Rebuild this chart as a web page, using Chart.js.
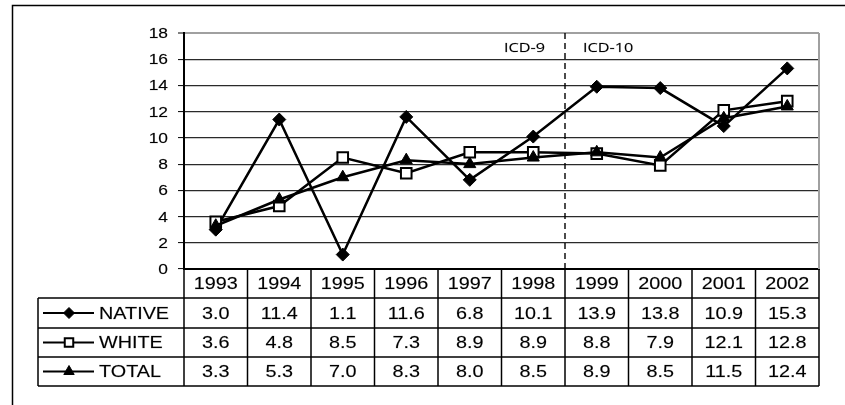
<!DOCTYPE html>
<html>
<head>
<meta charset="utf-8">
<script src="https://cdn.jsdelivr.net/npm/chart.js@4"></script>
<style>
  body { margin: 0; background: #fff; }
  #wrap { width: 845px; height: 405px; }
</style>
</head>
<body>
<div id="wrap"><canvas id="chart" width="845" height="405"></canvas></div>
<script>
const years  = ['1993', '1994', '1995', '1996', '1997', '1998', '1999', '2000', '2001', '2002'];
const native = [3.0, 11.4, 1.1, 11.6, 6.8, 10.1, 13.9, 13.8, 10.9, 15.3];
const white  = [3.6, 4.8, 8.5, 7.3, 8.9, 8.9, 8.8, 7.9, 12.1, 12.8];
const total  = [3.3, 5.3, 7.0, 8.3, 8.0, 8.5, 8.9, 8.5, 11.5, 12.4];
const seriesNames = ['NATIVE', 'WHITE', 'TOTAL'];
const icdLabels = ['ICD-9', 'ICD-10'];   // split between 1998 and 1999
const yMin = 0, yMax = 18, yStep = 2;

const FONT = '"Liberation Sans", Arial, sans-serif';
const STRETCH = 1.2;   // the original text is drawn wide

function wideText(ctx, text, x, y, align, font) {
    ctx.save();
    ctx.translate(x, y);
    ctx.scale(STRETCH, 1);
    ctx.font = font;
    ctx.textAlign = align;
    ctx.textBaseline = 'middle';
    ctx.fillStyle = '#000';
    ctx.strokeStyle = 'rgba(0,0,0,0.35)';
    ctx.lineWidth = 0.4;
    ctx.fillText(text, 0, 0);
    ctx.strokeText(text, 0, 0);
    ctx.restore();
}

function line(ctx, x1, y1, x2, y2) {
    ctx.beginPath();
    ctx.moveTo(x1, y1);
    ctx.lineTo(x2, y2);
    ctx.stroke();
}

// outer frame, plot border, ICD divider, y labels and the data table
const extras = {
    id: 'extras',
    beforeDraw(chart) {
        const ctx = chart.ctx;
        ctx.save();
        ctx.strokeStyle = '#000';
        ctx.lineWidth = 1.5;
        ctx.strokeRect(12.5, 5.5, 900, 500);
        ctx.restore();
    },
    afterDatasetsDraw(chart) {
        const ctx = chart.ctx;
        const area = chart.chartArea;
        const xs = chart.scales.x, ys = chart.scales.y;
        const half = (xs.getPixelForValue(1) - xs.getPixelForValue(0)) / 2;

        ctx.save();
        // gray right border of the plot
        ctx.strokeStyle = '#a0a0a0';
        ctx.lineWidth = 2;
        line(ctx, area.right, area.top, area.right, area.bottom);

        // ICD-9 / ICD-10 divider
        const splitX = Math.round(xs.getPixelForValue(5) + half);
        ctx.strokeStyle = '#000';
        ctx.lineWidth = 1.4;
        ctx.setLineDash([6, 4]);
        line(ctx, splitX, area.top, splitX, area.bottom);
        ctx.setLineDash([]);
        wideText(ctx, icdLabels[0], splitX - 20, area.top + 15, 'right', '13.5px "Open Sans", sans-serif');
        wideText(ctx, icdLabels[1], splitX + 18, area.top + 15, 'left', '13.5px "Open Sans", sans-serif');

        // y tick labels
        ys.ticks.forEach(t => {
            wideText(ctx, String(t.value), area.left - 16, ys.getPixelForValue(t.value) + 1, 'right', '14.5px ' + FONT);
        });

        // table
        const rowTop = [area.bottom, 298, 328, 357, 386];
        const legLeft = 38;
        ctx.strokeStyle = '#000';
        ctx.lineWidth = 1.5;
        for (let r = 1; r < rowTop.length; r++) line(ctx, legLeft, rowTop[r], area.right, rowTop[r]);
        line(ctx, legLeft, rowTop[1], legLeft, rowTop[4]);
        for (let i = 0; i <= years.length; i++) {
            const x = xs.getPixelForValue(0) - half + i * 2 * half;
            line(ctx, x, rowTop[0], x, rowTop[4]);
        }
        const rows = [native, white, total];
        years.forEach((yr, i) => {
            const cx = xs.getPixelForValue(i);
            wideText(ctx, yr, cx, (rowTop[0] + rowTop[1]) / 2 + 1, 'center', '16.5px ' + FONT);
            rows.forEach((vals, r) => {
                wideText(ctx, vals[i].toFixed(1), cx, (rowTop[r + 1] + rowTop[r + 2]) / 2 + 1, 'center', '16.5px ' + FONT);
            });
        });

        // legend cells
        const legStyles = [
            { pointStyle: 'rectRot', radius: 5.5, rotation: 0, borderWidth: 1, fill: '#000' },
            { pointStyle: 'rect', radius: 6, rotation: 0, borderWidth: 2, fill: '#fff' },
            { pointStyle: 'triangle', radius: 6, rotation: 0, borderWidth: 1, fill: '#000' }
        ];
        seriesNames.forEach((name, r) => {
            const cy = (rowTop[r + 1] + rowTop[r + 2]) / 2;
            ctx.strokeStyle = '#000';
            ctx.lineWidth = 2;
            line(ctx, 43, cy, 94, cy);
            ctx.fillStyle = legStyles[r].fill;
            ctx.lineWidth = legStyles[r].borderWidth;
            Chart.helpers.drawPoint(ctx, legStyles[r], 69, cy);
            wideText(ctx, name, 99, cy + 1, 'left', '16.5px ' + FONT);
        });
        ctx.restore();
    }
};

new Chart(document.getElementById('chart'), {
    type: 'line',
    data: {
        labels: years,
        datasets: [
            {
                label: seriesNames[0], data: native, order: 3,
                borderColor: '#000', borderWidth: 2.5, pointStyle: 'rectRot',
                pointRadius: 6.5, pointBackgroundColor: '#000', pointBorderColor: '#000', pointBorderWidth: 1
            },
            {
                label: seriesNames[1], data: white, order: 2,
                borderColor: '#000', borderWidth: 2.5, pointStyle: 'rect',
                pointRadius: 7.5, pointBackgroundColor: '#fff', pointBorderColor: '#000', pointBorderWidth: 2
            },
            {
                label: seriesNames[2], data: total, order: 1,
                borderColor: '#000', borderWidth: 2.5, pointStyle: 'triangle',
                pointRadius: 7, pointBackgroundColor: '#000', pointBorderColor: '#000', pointBorderWidth: 1
            }
        ]
    },
    options: {
        responsive: false,
        animation: false,
        devicePixelRatio: 1,
        layout: { padding: { top: 33, right: 26, left: 0, bottom: 0 } },
        plugins: { legend: { display: false }, tooltip: { enabled: false } },
        scales: {
            x: {
                offset: true,
                ticks: { display: false },
                grid: { display: false },
                border: { display: true, color: '#000', width: 2 },
                afterFit(scale) { scale.height = 136; }
            },
            y: {
                min: yMin, max: yMax,
                ticks: { stepSize: yStep, color: 'rgba(0,0,0,0)', font: { size: 14 } },
                grid: {
                    color: c => c.tick && c.tick.value === yMax ? '#a0a0a0' : '#2a2a2a',
                    lineWidth: c => c.tick && c.tick.value === yMax ? 2 : 1.2,
                    tickColor: '#000', tickLength: 6, tickWidth: 1
                },
                border: { display: true, color: '#000', width: 2 },
                afterFit(scale) { scale.width = 184; }
            }
        }
    },
    plugins: [extras]
});
</script>
</body>
</html>
